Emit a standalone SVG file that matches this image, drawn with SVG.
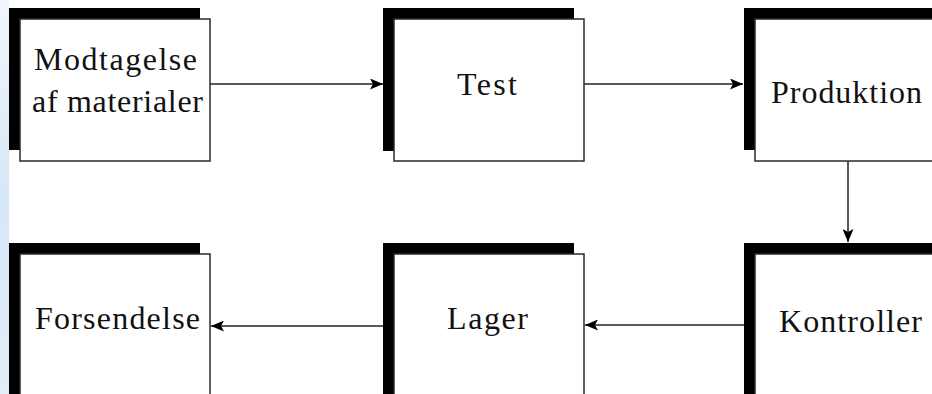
<svg xmlns="http://www.w3.org/2000/svg" width="932" height="394" viewBox="0 0 932 394">
<style>
.shadow{fill:#000}
.box{fill:#fff;stroke:#2a2a2a;stroke-width:1.5}
.lbl{font-family:"Liberation Serif","DejaVu Serif","Times New Roman",serif;font-size:32px;fill:#111}
.conn{stroke:#222;stroke-width:1.5;fill:none;marker-end:url(#ah)}
</style>
<defs>
<linearGradient id="strip" x1="0" y1="0" x2="0" y2="1">
<stop offset="0" stop-color="#f2f6fb"/>
<stop offset="0.5" stop-color="#d6e7f6"/>
<stop offset="1" stop-color="#e2eef9"/>
</linearGradient>
<marker id="ah" viewBox="0 0 13 11" refX="13" refY="5.5" markerWidth="13" markerHeight="11" markerUnits="userSpaceOnUse" orient="auto">
<path d="M0,0 L13,5.5 L0,11 L3,5.5 Z" fill="#000"/>
</marker>
</defs>
<rect x="0" y="0" width="932" height="394" fill="#fff"/>
<rect x="0" y="0" width="9" height="394" fill="url(#strip)"/>

<g id="connectors">
<line class="conn" x1="210" y1="84" x2="383" y2="84"/>
<line class="conn" x1="584" y1="84" x2="743" y2="84"/>
<line class="conn" x1="848" y1="161" x2="848" y2="242"/>
<line class="conn" x1="744" y1="325" x2="585" y2="325"/>
<line class="conn" x1="383" y1="326" x2="211" y2="326"/>
</g>

<g id="modtagelse">
<rect class="shadow" x="9" y="8" width="191" height="142"/>
<rect class="box" x="20" y="19" width="190" height="142"/>
<text class="lbl" x="34" y="70" textLength="163" lengthAdjust="spacing">Modtagelse</text>
<text class="lbl" x="32" y="112" textLength="171" lengthAdjust="spacing">af materialer</text>
</g>

<g id="test">
<rect class="shadow" x="383" y="8" width="191" height="143"/>
<rect class="box" x="394" y="19" width="190" height="142"/>
<text class="lbl" x="457" y="95" textLength="60" lengthAdjust="spacing">Test</text>
</g>

<g id="produktion">
<rect class="shadow" x="744" y="8" width="200" height="142"/>
<rect class="box" x="755" y="19" width="200" height="142"/>
<text class="lbl" x="771" y="103" textLength="151" lengthAdjust="spacing">Produktion</text>
</g>

<g id="forsendelse">
<rect class="shadow" x="9" y="243" width="191" height="160"/>
<rect class="box" x="20" y="254" width="190" height="160"/>
<text class="lbl" x="35" y="329" textLength="165" lengthAdjust="spacing">Forsendelse</text>
</g>

<g id="lager">
<rect class="shadow" x="383" y="243" width="191" height="160"/>
<rect class="box" x="394" y="254" width="190" height="160"/>
<text class="lbl" x="447" y="329" textLength="81" lengthAdjust="spacing">Lager</text>
</g>

<g id="kontroller">
<rect class="shadow" x="744" y="243" width="200" height="160"/>
<rect class="box" x="755" y="254" width="200" height="160"/>
<text class="lbl" x="779" y="332" textLength="143" lengthAdjust="spacing">Kontroller</text>
</g>
</svg>
